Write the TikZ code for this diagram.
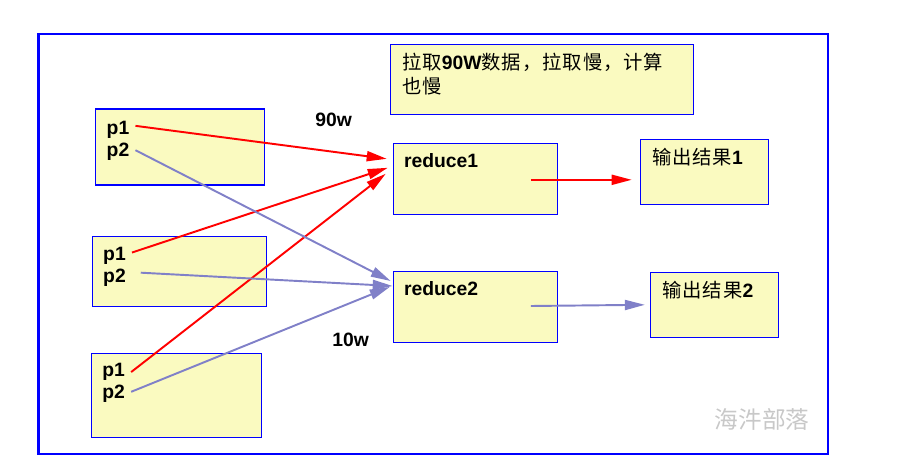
\documentclass[tikz,border=0pt]{standalone}
\usepackage{fontspec}
\setmainfont{Liberation Sans}
\newfontfamily\cjk[LetterSpace=5]{Noto Sans CJK SC}
\newfontfamily\cjkmarca{Noto Sans CJK SC}
\usetikzlibrary{arrows.meta, positioning, calc}
\definecolor{boxfill}{RGB}{250,250,192}
\definecolor{boxline}{RGB}{0,0,255}
\definecolor{lilac}{RGB}{128,128,200}
\definecolor{marca}{RGB}{200,200,200}

\begin{document}
\begin{tikzpicture}[x=0.02cm, y=-0.02cm,
      caixa/.style={draw=boxline, line width=0.7pt, fill=boxfill, inner sep=0pt},
      txt/.style={font=\bfseries\fontsize{11}{13.6}\selectfont, anchor=base west},
      quente/.style={-{Triangle[length=0.4cm, width=0.2cm]}, red, line width=1.1pt},
      fria/.style={-{Triangle[length=0.4cm, width=0.2cm]}, lilac, line width=1.1pt}]
    \useasboundingbox (0,0) rectangle (909,466);
    \draw[boxline, line width=1.4pt] (38.5,34) rectangle (828,454);
    % caixas
    \node[caixa, minimum width=3.38cm, minimum height=1.52cm] (m1) at (180,147) {};
    \node[caixa, minimum width=3.48cm, minimum height=1.40cm] (m2) at (179.3,271.2) {};
    \node[caixa, minimum width=3.40cm, minimum height=1.68cm] (m3) at (176.5,395.3) {};
    \node[caixa, minimum width=6.06cm, minimum height=1.40cm] (nota) at (542,79.5) {};
    \node[caixa, minimum width=3.28cm, minimum height=1.42cm] (r1) at (475.3,178.8) {};
    \node[caixa, minimum width=3.28cm, minimum height=1.42cm] (r2) at (475.3,307) {};
    \node[caixa, minimum width=2.56cm, minimum height=1.30cm] (o1) at (704.3,171.8) {};
    \node[caixa, minimum width=2.56cm, minimum height=1.30cm] (o2) at (714.5,304.8) {};
    % textos
    \node[txt] (a1) at (100.5,134) {p1};
    \node[txt] (a2) at (100.5,156.7) {p2};
    \node[txt] (b1) at (97,260.7) {p1};
    \node[txt] (b2) at (97,282.7) {p2};
    \node[txt] (c1) at (96.2,376.7) {p1};
    \node[txt] (c2) at (96.2,398.3) {p2};
    \node[txt] (tr1) at (397.8,167.3) {reduce1};
    \node[txt] (tr2) at (397.8,295.3) {reduce2};
    \node[txt] (to1) at (645.8,164.3) {{\cjk\mdseries 输出结果}1};
    \node[txt] (to2) at (656.2,297.3) {{\cjk\mdseries 输出结果}2};
    \node[txt, anchor=north west, align=left] (tnota) at (396,47)
          {{\cjk\mdseries 拉取}90W{\cjk\mdseries 数据，拉取慢，计算}\\{\cjk\mdseries 也慢}};
    \node[txt] (q90) at (309.2,127) {90w};
    \node[txt] (q10) at (326.2,346.7) {10w};
    \node[font=\cjkmarca\fontsize{13.5}{16}\selectfont, text=marca] (marca) at (762,419.5) {海汼部落};
    % ligacoes
    \draw[quente] ([yshift=2pt]a1.east) -- ($(r1.west)+(-6,-20)$);
    \draw[quente] ([yshift=2pt]b1.east) -- ($(r1.west)+(-5,-11)$);
    \draw[quente] (c1.east) -- ($(r1.west)+(-7,-5)$);
    \draw[fria] ([yshift=1pt]a2.east) -- ($(r2.west)+(-2,-26)$);
    \draw[fria] ([xshift=5pt,yshift=3pt]b2.east) -- ($(r2.west)+(0,-21)$);
    \draw[fria] ([yshift=1pt]c2.east) -- ($(r2.west)+(-3,-20)$);
    \draw[quente] ($(r1.east)+(-27,1)$) -- ($(o1.west)+(-8,8)$);
    \draw[fria] ($(r2.east)+(-27,-1)$) -- ($(o2.west)+(-5,0)$);
\end{tikzpicture}
\end{document}
